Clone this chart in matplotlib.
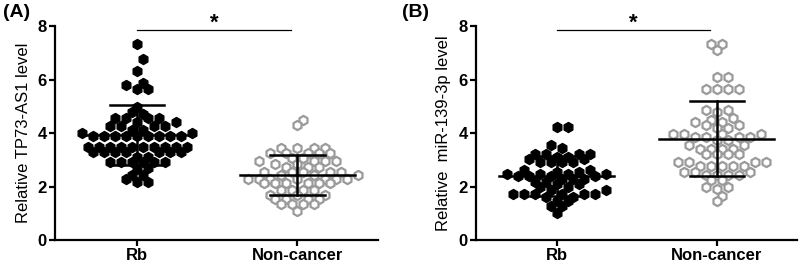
import numpy as np
import matplotlib
matplotlib.use("Agg")
import matplotlib.pyplot as plt

plt.rcParams['font.family'] = ['Liberation Sans', 'DejaVu Sans']

groups = ["Rb", "Non-cancer"]

# panel A: TP73-AS1
a_rb = [7.33, 6.75, 6.33, 5.88, 5.78, 5.63, 5.63, 4.98, 4.77, 4.72,
        4.55, 4.55, 4.55, 4.55, 4.42, 4.42, 4.28, 4.28, 4.28, 4.28,
        4.12, 4.12, 4.00, 4.00, 3.90, 3.90, 3.90, 3.90, 3.90, 3.90, 3.90, 3.90, 3.90,
        3.49, 3.49, 3.49, 3.49, 3.49, 3.49, 3.49, 3.49, 3.49, 3.49,
        3.30, 3.30, 3.30, 3.30, 3.30, 3.30, 3.30, 3.12, 3.12,
        2.92, 2.92, 2.92, 2.92, 2.92, 2.92, 2.68, 2.65,
        2.45, 2.42, 2.28, 2.18, 2.18]
a_nc = [4.50, 4.30, 3.45, 3.45, 3.45, 3.45, 3.25, 3.25, 3.25, 3.25, 3.25,
        3.05, 3.05, 2.95, 2.95, 2.95, 2.95, 2.85, 2.85, 2.72, 2.72, 2.72,
        2.55, 2.55, 2.55, 2.55, 2.55, 2.45, 2.45, 2.45,
        2.30, 2.30, 2.30, 2.30, 2.30, 2.30, 2.30, 2.12, 2.12, 2.12, 2.12, 2.12, 2.12,
        1.88, 1.88, 1.88, 1.88, 1.70, 1.70, 1.70,
        1.52, 1.52, 1.52, 1.52, 1.35, 1.35, 1.35, 1.35, 1.10]

# panel B: miR-139-3p
b_rb = [4.22, 4.22, 3.55, 3.45, 3.20, 3.20, 3.20, 3.20, 3.12, 3.12, 3.02, 3.02,
        2.92, 2.92, 2.92, 2.92, 2.62, 2.62, 2.55, 2.55,
        2.48, 2.48, 2.48, 2.48, 2.38, 2.38, 2.38, 2.38,
        2.28, 2.28, 2.28, 2.18, 2.18, 2.10, 2.10,
        1.97, 1.97, 1.87, 1.87, 1.74, 1.74, 1.74, 1.74, 1.74, 1.74,
        1.62, 1.62, 1.45, 1.45, 1.26, 1.26, 1.00]
b_nc = [7.33, 7.33, 7.10, 6.10, 6.10, 5.65, 5.65, 5.65, 5.65, 4.85, 4.85, 4.78,
        4.55, 4.50, 4.40, 4.40, 4.30, 4.30, 4.20, 4.20,
        3.95, 3.95, 3.95, 3.95, 3.85, 3.85, 3.85, 3.85, 3.75, 3.75,
        3.55, 3.55, 3.40, 3.40, 3.40, 3.40, 3.20, 3.20, 3.20, 3.20,
        2.90, 2.90, 2.90, 2.90, 2.75, 2.75, 2.75, 2.75, 2.75,
        2.55, 2.55, 2.55, 2.45, 2.45, 2.45, 2.45,
        2.25, 2.25, 2.00, 2.00, 1.90, 1.65, 1.45]

# mean and SD bars
a_mean = [3.92, 2.42]
a_sd = [1.13, 0.75]
b_mean = [2.40, 3.78]
b_sd = [0.76, 1.40]

ylabels = ["Relative TP73-AS1 level", "Relative  miR-139-3p level"]
panel_tags = ["(A)", "(B)"]

px_per_y = 26.75   # pixels per y unit
px_per_x = 160.0   # pixels per category step
dot_x = 11.0       # horizontal spacing of neighbours in one row
near_y = 4.5       # closer than this: same row
far_y = 11.5       # closer than this: neighbouring row, offset by half a step


def swarm(vals):
    # bottom-up swarm on a staggered grid, nearest free spot to the centre
    order = np.argsort(vals, kind='stable')
    placed = []
    xs = np.zeros(len(vals))
    for i in order:
        y = vals[i] * px_per_y
        blocked = []
        for (px, py) in placed:
            dy = abs(py - y)
            if dy < near_y:
                w = dot_x
            elif dy < far_y:
                w = dot_x / 2
            else:
                continue
            blocked.append((px - w, px + w))
        cands = [0.0]
        for lo, hi in blocked:
            cands += [lo, hi]
        cands.sort(key=lambda c: (round(abs(c), 6), -c))
        for c in cands:
            if all(not (lo + 1e-6 < c < hi - 1e-6) for lo, hi in blocked):
                xs[i] = c
                break
        placed.append((xs[i], y))
    return xs / px_per_x


fig = plt.figure(figsize=(8, 2.65), dpi=100)
axes = [fig.add_axes([0.069, 0.094, 0.404, 0.808]),
        fig.add_axes([0.595, 0.094, 0.401, 0.808])]
xlims = [(-0.5125, 1.506), (-0.506, 1.5)]
data = [(a_rb, a_nc), (b_rb, b_nc)]
stats = [(a_mean, a_sd), (b_mean, b_sd)]

for k, ax in enumerate(axes):
    rb, nc = [np.array(v) for v in data[k]]
    ax.scatter(0 + swarm(rb), rb, marker='h', s=52, color='black', zorder=2)
    ax.scatter(1 + swarm(nc), nc, marker='h', s=44, facecolor='white',
               edgecolor='#9a9a9a', linewidth=1.6, zorder=2)
    means, sds = stats[k]
    for pos in range(2):
        m, sd = means[pos], sds[pos]
        ax.plot([pos - 0.36, pos + 0.36], [m, m], color='black', lw=1.8, zorder=3)
        ax.plot([pos, pos], [m - sd, m + sd], color='black', lw=1.8, zorder=3)
        for e in (m - sd, m + sd):
            ax.plot([pos - 0.17, pos + 0.17], [e, e], color='black', lw=1.8, zorder=3)

    # significance bar
    ax.plot([0.0, 0.96], [7.85, 7.85], color='black', lw=0.9, clip_on=False)
    ax.text(0.48, 7.72, "*", ha='center', va='bottom', fontsize=16,
            fontweight='bold', clip_on=False)

    ax.set_xlim(*xlims[k])
    ax.set_ylim(0, 8)
    ax.set_yticks([0, 2, 4, 6, 8])
    ax.set_xticks([0, 1])
    ax.set_xticklabels(groups, fontsize=12, fontweight='bold')
    for t in ax.get_yticklabels():
        t.set_fontsize(12)
        t.set_fontweight('bold')
    ax.set_ylabel(ylabels[k], fontsize=12, labelpad=5)
    ax.spines['top'].set_visible(False)
    ax.spines['right'].set_visible(False)
    ax.spines['left'].set_linewidth(1.6)
    ax.spines['bottom'].set_linewidth(1.6)
    ax.tick_params(width=1.6, length=4, pad=2)

fig.text(0.004, 0.985, panel_tags[0], fontsize=14, fontweight='bold', va='top')
fig.text(0.502, 0.985, panel_tags[1], fontsize=14, fontweight='bold', va='top')

fig.savefig("out.png", dpi=100)
